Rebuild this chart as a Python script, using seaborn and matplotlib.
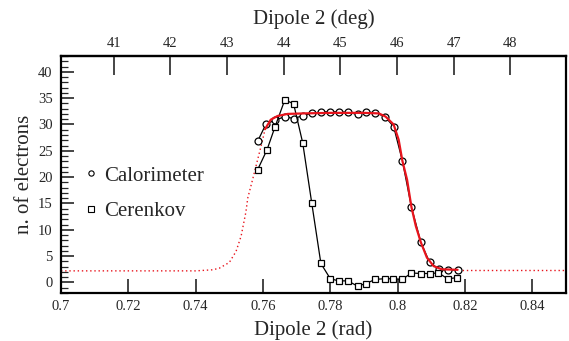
import matplotlib
matplotlib.use("Agg")
import matplotlib.pyplot as plt
from matplotlib.lines import Line2D
from matplotlib.ticker import MultipleLocator
import pandas as pd
import seaborn as sns

# Calorimeter points (rad, n. of electrons)
calo_x = [0.7584, 0.7609, 0.7636, 0.7665, 0.7692, 0.7718, 0.7746, 0.7772,
          0.7800, 0.7826, 0.7853, 0.7881, 0.7907, 0.7934, 0.7962, 0.7988,
          0.8014, 0.8041, 0.8069, 0.8095, 0.8123, 0.8149, 0.8178]
calo_y = [26.8, 30.1, 30.8, 31.5, 31.1, 31.7, 32.1, 32.4,
          32.4, 32.4, 32.3, 31.9, 32.4, 32.2, 31.5, 29.6,
          23.1, 14.3, 7.6, 3.8, 2.5, 2.3, 2.4]

# Cerenkov points
cer_x = [0.7584, 0.7612, 0.7636, 0.7665, 0.7691, 0.7718, 0.7745, 0.7772,
         0.7800, 0.7825, 0.7852, 0.7881, 0.7906, 0.7934, 0.7961, 0.7987,
         0.8014, 0.8041, 0.8069, 0.8095, 0.8121, 0.8149, 0.8175]
cer_y = [21.4, 25.2, 29.6, 34.7, 33.9, 26.5, 15.0, 3.6,
         0.7, 0.3, 0.3, -0.7, -0.2, 0.6, 0.7, 0.7,
         0.6, 1.8, 1.7, 1.7, 1.8, 0.7, 0.9]

# fit curve: solid inside the fit range, dotted outside
fit_x = [0.7606, 0.7623, 0.7643, 0.7673, 0.7722, 0.7800, 0.7900, 0.7944,
         0.7964, 0.7988, 0.8003, 0.8014, 0.8028, 0.8041, 0.8054, 0.8069,
         0.8087, 0.8107, 0.8131, 0.8178]
fit_y = [29.1, 30.9, 31.6, 32.0, 32.1, 32.2, 32.2, 32.1,
         31.5, 30.0, 27.1, 23.1, 19.5, 14.3, 10.7, 7.6,
         4.7, 3.1, 2.5, 2.4]
left_x = [0.700, 0.740, 0.745, 0.747, 0.750, 0.752, 0.7535, 0.7549,
          0.7555, 0.7569, 0.7584, 0.7599, 0.7606]
left_y = [2.2, 2.2, 2.4, 2.7, 3.8, 5.9, 8.8, 13.3,
          16.1, 19.5, 23.3, 27.1, 29.1]
right_x = [0.8178, 0.850]
right_y = [2.3, 2.3]

# top axis (deg) tick values
deg_ticks = [41, 42, 43, 44, 45, 46, 47, 48]

calo = pd.DataFrame({'rad': calo_x, 'n': calo_y})
cer = pd.DataFrame({'rad': cer_x, 'n': cer_y})
fit = pd.DataFrame({'rad': fit_x, 'n': fit_y})
left = pd.DataFrame({'rad': left_x, 'n': left_y})
right = pd.DataFrame({'rad': right_x, 'n': right_y})

sns.set_style('ticks')
plt.rcParams['font.family'] = ['Liberation Serif', 'DejaVu Serif']

fig = plt.figure(figsize=(5.69, 3.41), dpi=100)
ax = fig.add_axes([0.1072, 0.1408, 0.8875, 0.695])

sns.lineplot(data=calo, x='rad', y='n', ax=ax, color='black', lw=0.9,
             marker='o', markersize=5, markerfacecolor='white',
             markeredgecolor='black', markeredgewidth=0.9, zorder=3)
sns.lineplot(data=cer, x='rad', y='n', ax=ax, color='black', lw=0.9,
             marker='s', markersize=4.6, markerfacecolor='white',
             markeredgecolor='black', markeredgewidth=0.9, zorder=3)
sns.lineplot(data=fit, x='rad', y='n', ax=ax, color='#e8141c', lw=1.6,
             sort=False, zorder=4)
for part in (left, right):
    sns.lineplot(data=part, x='rad', y='n', ax=ax, color='#e8141c', lw=1.0,
                 linestyle=(0, (1, 2)), sort=False, zorder=2)

ax.set_xlim(0.7, 0.85)
ax.set_ylim(-2, 43)
ax.yaxis.set_major_locator(MultipleLocator(5))
ax.yaxis.set_minor_locator(MultipleLocator(1))
ax.set_xticks([0.7, 0.72, 0.74, 0.76, 0.78, 0.8, 0.82, 0.84])
ax.set_xticklabels(['0.7', '0.72', '0.74', '0.76', '0.78', '0.8', '0.82', '0.84'])

ax.tick_params(axis='x', which='major', direction='in', length=10, width=1.2,
               labelsize=10.5, pad=5, top=False)
ax.tick_params(axis='y', which='major', direction='in', length=9, width=1.2,
               labelsize=10.5, pad=6, right=False)
ax.tick_params(axis='y', which='minor', direction='in', length=5, width=0.9,
               right=False)
for s in ax.spines.values():
    s.set_linewidth(1.6)
    s.set_color('black')

ax.set_xlabel('Dipole 2 (rad)', fontsize=15, labelpad=5)
ax.set_ylabel('n. of electrons', fontsize=15, labelpad=3)

# top axis: linear degree scale
r0, k = 0.71562, 59.42
top = ax.secondary_xaxis('top', functions=(lambda r: 41 + (r - r0) * k,
                                           lambda d: r0 + (d - 41) / k))
top.set_xticks(deg_ticks)
top.tick_params(direction='in', length=14, width=1.2, labelsize=10.5, pad=4)
top.spines['top'].set_linewidth(1.6)
top.set_xlabel('Dipole 2 (deg)', fontsize=15, labelpad=10)

handles = [Line2D([], [], ls='none', marker='o', markersize=3.8,
                  markerfacecolor='white', markeredgecolor='black', markeredgewidth=0.8),
           Line2D([], [], ls='none', marker='s', markersize=3.8,
                  markerfacecolor='white', markeredgecolor='black', markeredgewidth=0.8)]
ax.legend(handles, ['Calorimeter', 'Cerenkov'], loc='center left',
          bbox_to_anchor=(0.01, 0.42), frameon=False, fontsize=15,
          handlelength=0.6, handletextpad=0.35, labelspacing=0.75)

fig.savefig('out.png', dpi=100)
